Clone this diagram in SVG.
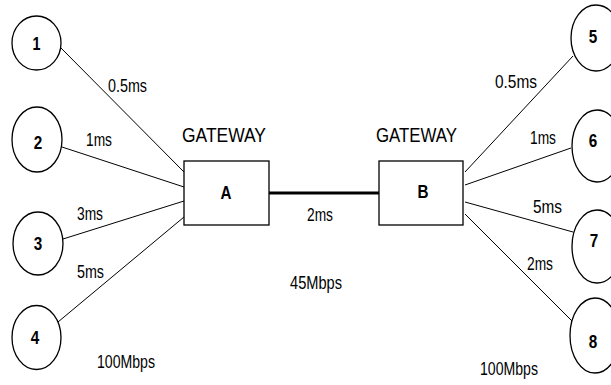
<svg xmlns="http://www.w3.org/2000/svg" width="611" height="385" viewBox="0 0 611 385">
<style>
.node ellipse,.node rect{fill:#fff;stroke:#000;stroke-width:1.3}
.num{font-family:"Liberation Sans",Arial,sans-serif;font-weight:bold;font-size:19px;fill:#000;text-anchor:middle}
.lbl{font-family:"Liberation Sans",Arial,sans-serif;font-size:17.5px;fill:#000}
.gw{font-family:"Liberation Sans",Arial,sans-serif;font-size:20px;fill:#000}
.edge{stroke:#000;stroke-width:1;fill:none}
.trunk{stroke:#000;stroke-width:3;fill:none}
</style>
<rect width="611" height="385" fill="#fff"/>
<g id="connectors">
<line class="edge" x1="61" y1="48" x2="184" y2="172"/>
<line class="edge" x1="62" y1="147" x2="184" y2="187"/>
<line class="edge" x1="63" y1="239" x2="184" y2="201"/>
<line class="edge" x1="58" y1="322" x2="184" y2="217"/>
<line class="trunk" x1="269" y1="193" x2="379" y2="193"/>
<line class="edge" x1="465" y1="172" x2="573" y2="56"/>
<line class="edge" x1="465" y1="185" x2="571" y2="148"/>
<line class="edge" x1="465" y1="202" x2="573" y2="232"/>
<line class="edge" x1="465" y1="214" x2="574" y2="323"/>
</g>
<g id="labels">
<text class="lbl" x="108" y="92" textLength="39" lengthAdjust="spacingAndGlyphs">0.5ms</text>
<text class="lbl" x="86" y="146" textLength="26" lengthAdjust="spacingAndGlyphs">1ms</text>
<text class="lbl" x="77" y="220" textLength="26" lengthAdjust="spacingAndGlyphs">3ms</text>
<text class="lbl" x="77" y="278" textLength="27" lengthAdjust="spacingAndGlyphs">5ms</text>
<text class="lbl" x="97" y="368" textLength="58" lengthAdjust="spacingAndGlyphs">100Mbps</text>
<text class="lbl" x="307" y="221" textLength="26" lengthAdjust="spacingAndGlyphs">2ms</text>
<text class="lbl" x="290" y="289" textLength="52" lengthAdjust="spacingAndGlyphs">45Mbps</text>
<text class="lbl" x="495" y="88" textLength="42" lengthAdjust="spacingAndGlyphs">0.5ms</text>
<text class="lbl" x="530" y="144" textLength="26" lengthAdjust="spacingAndGlyphs">1ms</text>
<text class="lbl" x="533" y="213" textLength="29" lengthAdjust="spacingAndGlyphs">5ms</text>
<text class="lbl" x="527" y="270" textLength="26" lengthAdjust="spacingAndGlyphs">2ms</text>
<text class="lbl" x="480" y="375" textLength="58" lengthAdjust="spacingAndGlyphs">100Mbps</text>
</g>
<g id="gatewayA" class="node">
<text class="gw" x="182" y="142" textLength="84" lengthAdjust="spacingAndGlyphs">GATEWAY</text>
<rect x="184" y="161" width="85" height="64"/>
<text class="num" x="226" y="199" textLength="11" lengthAdjust="spacingAndGlyphs">A</text>
</g>
<g id="gatewayB" class="node">
<text class="gw" x="376" y="142" textLength="81" lengthAdjust="spacingAndGlyphs">GATEWAY</text>
<rect x="379" y="161" width="84" height="64"/>
<text class="num" x="423" y="198" textLength="11" lengthAdjust="spacingAndGlyphs">B</text>
</g>
<g id="n1" class="node"><ellipse cx="36.5" cy="43" rx="24.5" ry="27"/><text class="num" x="36.5" y="50" textLength="8" lengthAdjust="spacingAndGlyphs">1</text></g>
<g id="n2" class="node"><ellipse cx="37" cy="139.5" rx="25" ry="32.5"/><text class="num" x="38" y="149" textLength="8.5" lengthAdjust="spacingAndGlyphs">2</text></g>
<g id="n3" class="node"><ellipse cx="38" cy="243.5" rx="25" ry="31.5"/><text class="num" x="38" y="250" textLength="8.5" lengthAdjust="spacingAndGlyphs">3</text></g>
<g id="n4" class="node"><ellipse cx="36.5" cy="337.5" rx="24.5" ry="32"/><text class="num" x="35" y="344" textLength="8.5" lengthAdjust="spacingAndGlyphs">4</text></g>
<g id="n5" class="node"><ellipse cx="596" cy="38" rx="25" ry="33"/><text class="num" x="593" y="43" textLength="8.5" lengthAdjust="spacingAndGlyphs">5</text></g>
<g id="n6" class="node"><ellipse cx="597" cy="146" rx="25" ry="36"/><text class="num" x="593" y="147" textLength="8.5" lengthAdjust="spacingAndGlyphs">6</text></g>
<g id="n7" class="node"><ellipse cx="597" cy="246.5" rx="25" ry="36.5"/><text class="num" x="594" y="247" textLength="8.5" lengthAdjust="spacingAndGlyphs">7</text></g>
<g id="n8" class="node"><ellipse cx="595" cy="335.5" rx="25" ry="37.5"/><text class="num" x="593" y="348" textLength="8.5" lengthAdjust="spacingAndGlyphs">8</text></g>
</svg>
